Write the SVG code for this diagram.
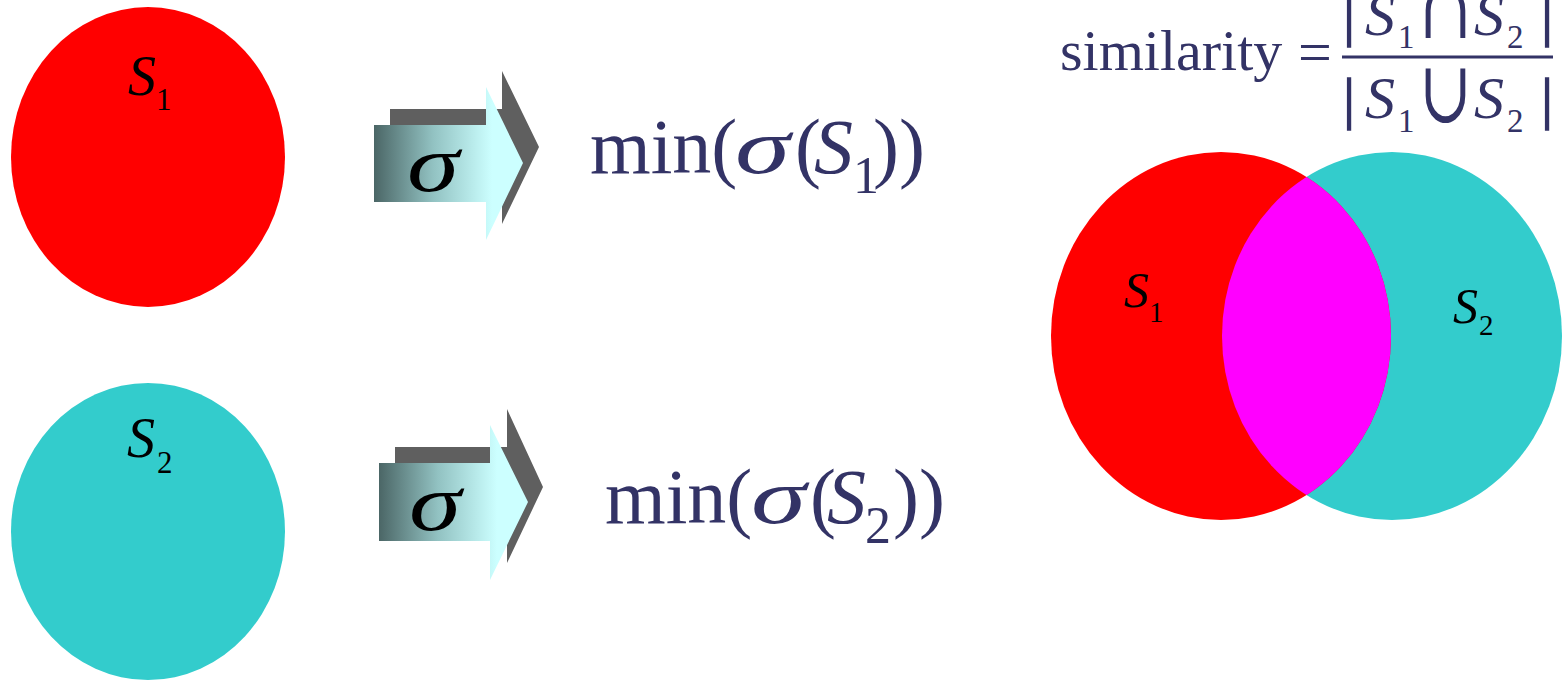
<svg xmlns="http://www.w3.org/2000/svg" width="1568" height="682" viewBox="0 0 1568 682">
<style>
.t{font-family:"Liberation Serif","Times New Roman",serif;fill:#333366}
.it{font-style:italic}
.lbl{font-family:"Liberation Serif","Times New Roman",serif;fill:#000}
.op{font-family:"DejaVu Serif","Liberation Serif",serif;fill:#333366}
.bar{stroke:#333366;stroke-width:1.4}
.shadow{fill:#5f5f5f}
</style>
<defs>
<linearGradient id="g1" gradientUnits="userSpaceOnUse" x1="374" y1="0" x2="492" y2="0">
<stop offset="0" stop-color="#4b6666"/>
<stop offset="0.5" stop-color="#92c2c2"/>
<stop offset="1" stop-color="#ccffff"/>
</linearGradient>
<linearGradient id="g2" gradientUnits="userSpaceOnUse" x1="379" y1="0" x2="497" y2="0">
<stop offset="0" stop-color="#4b6666"/>
<stop offset="0.5" stop-color="#92c2c2"/>
<stop offset="1" stop-color="#ccffff"/>
</linearGradient>
<clipPath id="clipRed"><ellipse cx="1221" cy="336" rx="170" ry="184"/></clipPath>
</defs>

<g id="set1">
<ellipse cx="148" cy="157" rx="137" ry="150" fill="#ff0000"/>
<text class="lbl it" x="128" y="95" font-size="56">S</text>
<text class="lbl" x="156" y="110" font-size="31">1</text>
</g>

<g id="set2">
<ellipse cx="148" cy="531.5" rx="137" ry="148.5" fill="#33cccc"/>
<text class="lbl it" x="127" y="457" font-size="56">S</text>
<text class="lbl" x="157" y="473" font-size="31">2</text>
</g>

<g id="connectors">
<g id="arrow1">
<polygon class="shadow" points="390,109 502,109 502,71 539,147 502,224 502,186 390,186"/>
<polygon fill="url(#g1)" points="374,125 486,125 486,87 523,163 486,240 486,202 374,202"/>
<text class="lbl it" x="407" y="191" font-size="80" textLength="52" lengthAdjust="spacingAndGlyphs">σ</text>
</g>
<g id="arrow2">
<polygon class="shadow" points="395,447 507,447 507,409 543,487 507,563 507,525 395,525"/>
<polygon fill="url(#g2)" points="379,463 490,463 490,425 528,502 490,580 490,541 379,541"/>
<text class="lbl it" x="409" y="530" font-size="80" textLength="52" lengthAdjust="spacingAndGlyphs">σ</text>
</g>
</g>

<g id="min1">
<text class="t" x="590" y="173" font-size="78">min(</text>
<text class="t it" x="735" y="173" font-size="78" textLength="55" lengthAdjust="spacingAndGlyphs">σ</text>
<text class="t" x="795" y="173" font-size="78">(</text>
<text class="t it" x="814" y="173" font-size="78">S</text>
<text class="t" x="853" y="193" font-size="52">1</text>
<text class="t" x="873" y="173" font-size="78">))</text>
</g>

<g id="min2">
<text class="t" x="605" y="523" font-size="78">min(</text>
<text class="t it" x="751" y="523" font-size="78" textLength="55" lengthAdjust="spacingAndGlyphs">σ</text>
<text class="t" x="810" y="523" font-size="78">(</text>
<text class="t it" x="827" y="523" font-size="78">S</text>
<text class="t" x="865" y="543" font-size="52">2</text>
<text class="t" x="893" y="523" font-size="78">))</text>
</g>

<g id="venn">
<ellipse cx="1392" cy="336" rx="170" ry="184" fill="#33cccc"/>
<ellipse cx="1221" cy="336" rx="170" ry="184" fill="#ff0000"/>
<ellipse cx="1392" cy="336" rx="170" ry="184" fill="#ff00ff" clip-path="url(#clipRed)"/>
<text class="lbl it" x="1124" y="307" font-size="50">S</text>
<text class="lbl" x="1149" y="322" font-size="29">1</text>
<text class="lbl it" x="1453" y="323" font-size="50">S</text>
<text class="lbl" x="1479" y="335" font-size="29">2</text>
</g>

<g id="formula">
<text class="t" x="1060" y="70" font-size="58">similarity</text>
<text class="t" x="1298" y="72" font-size="60">=</text>
<rect x="1342" y="55.5" width="211" height="3" fill="#333366"/>
<text class="t bar" x="1349" y="35" font-size="58" text-anchor="middle">|</text>
<text class="t it" x="1365" y="35" font-size="60">S</text>
<text class="t" x="1398" y="48" font-size="33">1</text>
<text class="op" transform="translate(1445.5,38) scale(1.09,1.5)" x="0" y="0" font-size="58" text-anchor="middle">∩</text>
<text class="t it" x="1474" y="35" font-size="60">S</text>
<text class="t" x="1507" y="48" font-size="33">2</text>
<text class="t bar" x="1547" y="35" font-size="58" text-anchor="middle">|</text>
<text class="t bar" x="1349" y="118" font-size="58" text-anchor="middle">|</text>
<text class="t it" x="1365" y="118" font-size="60">S</text>
<text class="t" x="1398" y="132" font-size="33">1</text>
<text class="op" transform="translate(1445.5,122) scale(1.09,1.5)" x="0" y="0" font-size="58" text-anchor="middle">∪</text>
<text class="t it" x="1474" y="118" font-size="60">S</text>
<text class="t" x="1507" y="132" font-size="33">2</text>
<text class="t bar" x="1547" y="118" font-size="58" text-anchor="middle">|</text>
</g>
</svg>
